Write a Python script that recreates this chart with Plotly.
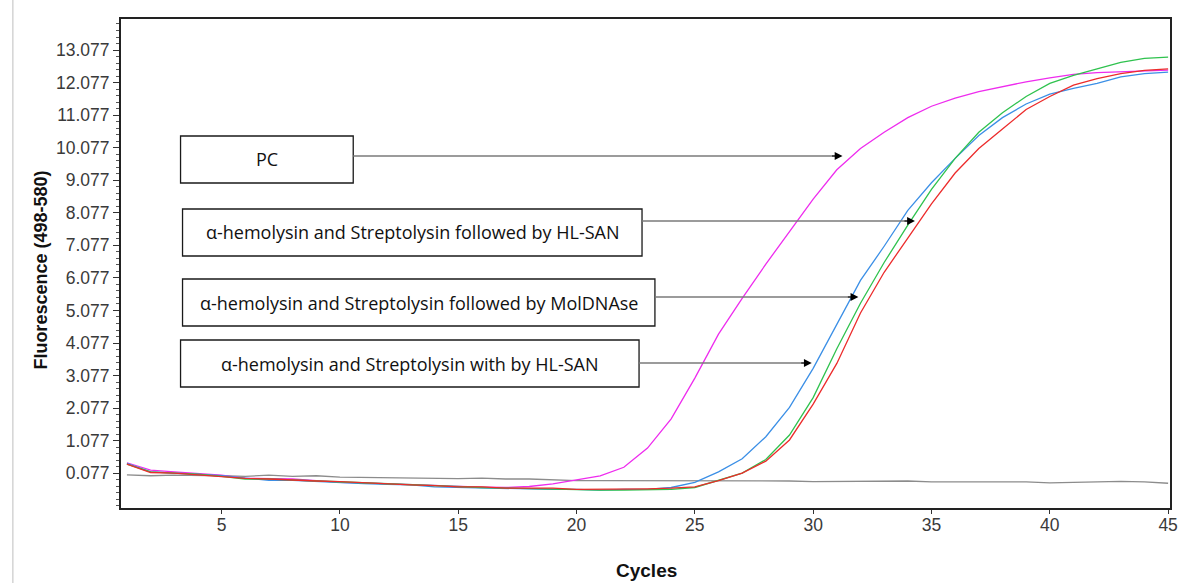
import plotly.graph_objects as go

cycles = list(range(1, 46))

pc_magenta = [0.40, 0.17, 0.12, 0.08, 0.02, -0.08, -0.10, -0.10, -0.15, -0.20,
              -0.22, -0.25, -0.27, -0.30, -0.33, -0.35, -0.36, -0.33, -0.25, -0.13,
              0.00, 0.26, 0.85, 1.75, 3.00, 4.35, 5.45, 6.50, 7.50, 8.50,
              9.40, 10.05, 10.55, 11.00, 11.35, 11.60, 11.80, 11.95, 12.10, 12.22,
              12.33, 12.38, 12.40, 12.43, 12.46]

blue = [0.38, 0.12, 0.08, 0.05, 0.00, -0.07, -0.14, -0.14, -0.18, -0.20,
        -0.24, -0.26, -0.28, -0.34, -0.36, -0.36, -0.40, -0.40, -0.42, -0.42,
        -0.44, -0.42, -0.42, -0.36, -0.20, 0.12, 0.52, 1.20, 2.10, 3.30,
        4.65, 6.00, 7.05, 8.15, 9.00, 9.75, 10.45, 11.00, 11.42, 11.72,
        11.90, 12.05, 12.25, 12.35, 12.40]

green = [0.36, 0.12, 0.08, 0.05, -0.02, -0.10, -0.10, -0.13, -0.16, -0.20,
         -0.22, -0.25, -0.28, -0.30, -0.33, -0.36, -0.38, -0.40, -0.40, -0.42,
         -0.44, -0.44, -0.42, -0.42, -0.36, -0.15, 0.08, 0.50, 1.25, 2.40,
         3.90, 5.30, 6.55, 7.70, 8.80, 9.75, 10.55, 11.15, 11.65, 12.05,
         12.30, 12.50, 12.70, 12.82, 12.86]

red = [0.36, 0.10, 0.08, 0.03, -0.02, -0.08, -0.10, -0.14, -0.16, -0.18,
       -0.22, -0.25, -0.28, -0.30, -0.34, -0.34, -0.38, -0.38, -0.38, -0.42,
       -0.42, -0.40, -0.40, -0.38, -0.34, -0.15, 0.08, 0.45, 1.10, 2.20,
       3.45, 5.00, 6.25, 7.30, 8.35, 9.30, 10.05, 10.65, 11.25, 11.65,
       12.00, 12.20, 12.35, 12.45, 12.50]

gray_ntc = [0.03, 0.00, 0.02, 0.02, 0.00, -0.02, 0.02, -0.02, 0.00, -0.04,
            -0.05, -0.05, -0.07, -0.07, -0.09, -0.07, -0.10, -0.10, -0.13, -0.15,
            -0.15, -0.15, -0.15, -0.15, -0.15, -0.15, -0.15, -0.17, -0.16, -0.18,
            -0.18, -0.17, -0.16, -0.16, -0.19, -0.19, -0.19, -0.19, -0.19, -0.22,
            -0.20, -0.20, -0.17, -0.19, -0.23]

y_tickvals = [0.077 + k for k in range(14)]
y_ticktext = ["%.3f" % v for v in y_tickvals]
x_tickvals = [5, 10, 15, 20, 25, 30, 35, 40, 45]

labels = ["PC",
          "α-hemolysin and Streptolysin followed by HL-SAN",
          "α-hemolysin and Streptolysin followed by MolDNAse",
          "α-hemolysin and Streptolysin with by HL-SAN"]

W, H = 1187, 583
L, R, T, B = 121, 9, 19, 75
PW, PH = W - L - R, H - T - B


def px(x):
    return (x - L) / PW


def py(y):
    return (H - B - y) / PH


fig = go.Figure()
series = [(gray_ntc, "#8c8c8c"), (pc_magenta, "#ee2cee"), (blue, "#3b8fe6"),
          (green, "#2fc24e"), (red, "#ec2b2b")]
for vals, col in series:
    fig.add_trace(go.Scatter(x=cycles, y=vals, mode="lines",
                             line=dict(color=col, width=1.3), showlegend=False,
                             hoverinfo="skip"))

# annotation boxes: (left, top, right, bottom, arrow_y, arrow_tip_x)
boxes = [(181, 136, 355, 183, 156, 848),
         (183, 209, 646, 256, 221, 921),
         (183, 279, 659, 326, 297, 864),
         (181, 340, 643, 387, 363, 817)]

shapes = []
annotations = []
for (bl, bt, br, bb, ay, tip), text in zip(boxes, labels):
    shapes.append(dict(type="rect", xref="paper", yref="paper",
                       x0=px(bl), x1=px(br), y0=py(bb), y1=py(bt),
                       line=dict(color="#1a1a1a", width=1.3), fillcolor="white"))
    annotations.append(dict(xref="paper", yref="paper", x=px((bl + br) / 2),
                            y=py((bt + bb) / 2), text=text, showarrow=False,
                            font=dict(family="Open Sans", size=18, color="#111111"),
                            xanchor="center", yanchor="middle"))
    shapes.append(dict(type="line", xref="paper", yref="paper",
                       x0=px(br), x1=px(tip - 6), y0=py(ay), y1=py(ay),
                       line=dict(color="#7a7a7a", width=1.3)))
    annotations.append(dict(xref="paper", yref="paper", x=px(tip), y=py(ay),
                            text="", showarrow=True, ax=-12, ay=0,
                            arrowhead=2, arrowsize=1.3, arrowwidth=1.2,
                            arrowcolor="#000000", standoff=0))

# thin gray frame line at left of picture
shapes.append(dict(type="line", xref="paper", yref="paper",
                   x0=px(12), x1=px(12), y0=py(H), y1=py(0),
                   line=dict(color="#d4d4d4", width=1.5)))

annotations.append(dict(xref="paper", yref="paper", x=px(40), y=py(270),
                        text="<b>Fluorescence (498-580)</b>", textangle=-90,
                        showarrow=False, xanchor="center", yanchor="middle",
                        font=dict(family="Liberation Sans", size=18, color="#111111")))
annotations.append(dict(xref="paper", yref="paper", x=px(651), y=py(570),
                        text="<b>Cycles</b>", showarrow=False,
                        xanchor="center", yanchor="middle",
                        font=dict(family="Liberation Sans", size=19, color="#111111")))

fig.update_layout(
    width=W, height=H,
    margin=dict(l=L, r=R, t=T, b=B),
    paper_bgcolor="white", plot_bgcolor="white",
    shapes=shapes, annotations=annotations,
    xaxis=dict(range=[0.75, 45.08], tickvals=x_tickvals, ticks="outside",
               ticklen=4, tickcolor="#333", showgrid=False, zeroline=False,
               showline=True, linecolor="#222", linewidth=2, mirror=True,
               ticklabelstandoff=-4,
               tickfont=dict(family="Liberation Sans", size=17.5, color="#3a3a3a")),
    yaxis=dict(range=[-0.99, 14.03], tickvals=y_tickvals, ticktext=y_ticktext,
               ticks="outside", ticklen=6, tickcolor="#333", showgrid=False,
               zeroline=False, showline=True, linecolor="#222", linewidth=2,
               mirror=True,
               minor=dict(tickmode="linear", tick0=-0.923, dtick=0.2,
                          ticks="outside", ticklen=3, tickcolor="#555",
                          showgrid=False),
               tickfont=dict(family="Liberation Sans", size=17.5, color="#3a3a3a")),
)

fig.write_html("out.html")
